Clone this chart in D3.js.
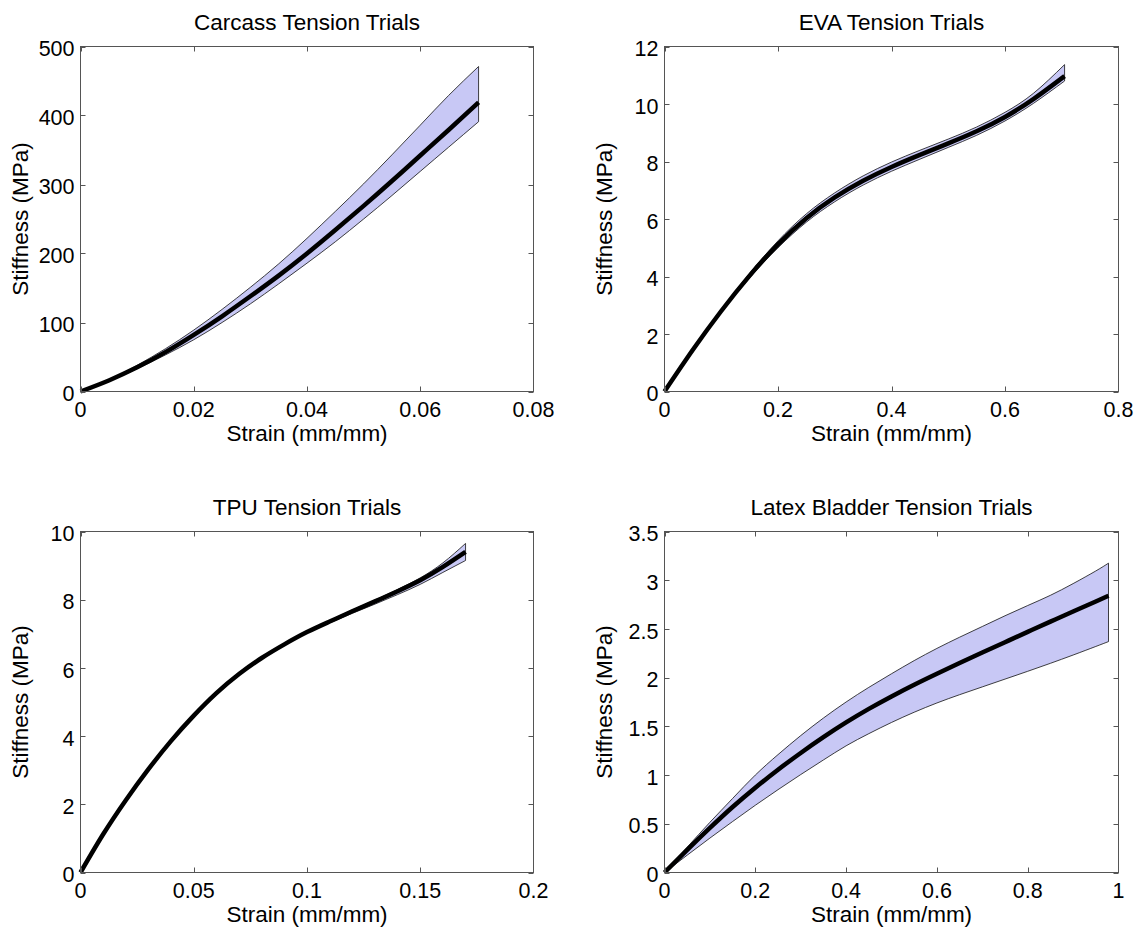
<!DOCTYPE html>
<html>
  <head>
    <meta charset="utf-8">
    <title>Tension trials</title>
    <script src="https://cdn.jsdelivr.net/npm/d3@7"></script>
    <style>
      body { margin: 0; background: #fff; }
      text { font-family: "Liberation Sans", Arial, sans-serif; fill: #000; }
      .box { fill: none; stroke: #555; stroke-width: 1; }
      .tick { stroke: #555; stroke-width: 1; }
      .band { fill: rgb(200, 200, 245); stroke: #111; stroke-width: 0.8; }
      .mean { fill: none; stroke: #000; stroke-width: 4.5; stroke-linejoin: round; }
    </style>
  </head>
  <body>
    <svg id="chart" width="1138" height="930"></svg>
    <script>
      // carcass
      carcassStrain = [0, 0.005, 0.01, 0.015, 0.02, 0.025, 0.03, 0.035, 0.04, 0.045, 0.05, 0.055, 0.06, 0.065, 0.0703];
      carcassMean = [0, 16, 35, 57, 82, 109, 138, 168, 200, 234, 269, 305, 342, 379, 419];
      carcassUpper = [0, 17, 38, 62, 89, 119, 151, 185, 222, 261, 301, 343, 386, 429, 471];
      carcassLower = [0, 15, 33, 53, 75, 100, 127, 156, 186, 217, 250, 284, 319, 354, 391];
      carcassXTicks = [0, 0.02, 0.04, 0.06, 0.08];
      carcassYTicks = [0, 100, 200, 300, 400, 500];
      // eva
      evaStrain = [0, 0.05, 0.1, 0.15, 0.2, 0.25, 0.3, 0.35, 0.4, 0.45, 0.5, 0.55, 0.6, 0.65, 0.705];
      evaMean = [0, 1.45, 2.8, 4.03, 5.12, 6.03, 6.75, 7.33, 7.81, 8.23, 8.63, 9.05, 9.55, 10.17, 10.97];
      evaUpper = [0, 1.48, 2.85, 4.11, 5.24, 6.18, 6.91, 7.5, 7.98, 8.39, 8.78, 9.2, 9.71, 10.37, 11.37];
      evaLower = [0, 1.42, 2.75, 3.95, 5.0, 5.89, 6.6, 7.18, 7.66, 8.08, 8.49, 8.91, 9.41, 10.02, 10.8];
      evaXTicks = [0, 0.2, 0.4, 0.6, 0.8];
      evaYTicks = [0, 2, 4, 6, 8, 10, 12];
      // tpu
      tpuStrain = [0, 0.01, 0.02, 0.03, 0.04, 0.05, 0.06, 0.07, 0.08, 0.09, 0.1, 0.11, 0.12, 0.13, 0.14, 0.15, 0.16, 0.17];
      tpuMean = [0, 1.12, 2.12, 3.03, 3.86, 4.6, 5.26, 5.82, 6.29, 6.69, 7.05, 7.36, 7.66, 7.95, 8.25, 8.57, 8.96, 9.4];
      tpuUpper = [0, 1.13, 2.13, 3.04, 3.87, 4.61, 5.27, 5.83, 6.3, 6.7, 7.07, 7.39, 7.7, 7.99, 8.3, 8.64, 9.08, 9.65];
      tpuLower = [0, 1.11, 2.11, 3.02, 3.85, 4.59, 5.25, 5.81, 6.28, 6.68, 7.03, 7.32, 7.6, 7.87, 8.15, 8.45, 8.8, 9.15];
      tpuXTicks = [0, 0.05, 0.1, 0.15, 0.2];
      tpuYTicks = [0, 2, 4, 6, 8, 10];
      // latex bladder
      latexStrain = [0, 0.05, 0.1, 0.15, 0.2, 0.25, 0.3, 0.35, 0.4, 0.45, 0.5, 0.55, 0.6, 0.65, 0.7, 0.75, 0.8, 0.85, 0.9, 0.95, 0.978];
      latexMean = [0, 0.232, 0.457, 0.672, 0.87, 1.055, 1.227, 1.389, 1.54, 1.679, 1.807, 1.927, 2.04, 2.15, 2.258, 2.364, 2.47, 2.575, 2.679, 2.782, 2.84];
      latexUpper = [0, 0.26, 0.515, 0.76, 1.0, 1.21, 1.405, 1.585, 1.75, 1.9, 2.04, 2.175, 2.3, 2.415, 2.525, 2.635, 2.74, 2.845, 2.965, 3.095, 3.175];
      latexLower = [0, 0.178, 0.353, 0.523, 0.69, 0.85, 1.005, 1.155, 1.3, 1.425, 1.54, 1.645, 1.74, 1.825, 1.905, 1.985, 2.065, 2.147, 2.232, 2.32, 2.37];
      latexXTicks = [0, 0.2, 0.4, 0.6, 0.8, 1];
      latexYTicks = [0, 0.5, 1, 1.5, 2, 2.5, 3, 3.5];

      panels = [
        { title: "Carcass Tension Trials", x: carcassStrain, mean: carcassMean, upper: carcassUpper, lower: carcassLower,
          xTicks: carcassXTicks, yTicks: carcassYTicks, box: [80.5, 46.5, 533.5, 391.5] },
        { title: "EVA Tension Trials", x: evaStrain, mean: evaMean, upper: evaUpper, lower: evaLower,
          xTicks: evaXTicks, yTicks: evaYTicks, box: [664.5, 46.5, 1118.5, 391.5] },
        { title: "TPU Tension Trials", x: tpuStrain, mean: tpuMean, upper: tpuUpper, lower: tpuLower,
          xTicks: tpuXTicks, yTicks: tpuYTicks, box: [80.5, 531.5, 533.5, 872.5] },
        { title: "Latex Bladder Tension Trials", x: latexStrain, mean: latexMean, upper: latexUpper, lower: latexLower,
          xTicks: latexXTicks, yTicks: latexYTicks, box: [664.5, 531.5, 1118.5, 872.5] }
      ];

      chart = d3.select("#chart");
      chart.append("rect").attr("width", 1138).attr("height", 930).attr("fill", "#fff");
      tickFont = 21.5;
      labelFont = 22.5;
      tickLen = 5;

      panels.forEach(function(p) {
        let [l, t, r, b] = p.box;
        let x = d3.scaleLinear()
          .domain(d3.extent(p.xTicks))
          .range([l, r]);
        let y = d3.scaleLinear()
          .domain(d3.extent(p.yTicks))
          .range([b, t]);
        let g = chart.append("g");
        let rows = p.x.map(function(d, i) {
          return { x: d, mean: p.mean[i], upper: p.upper[i], lower: p.lower[i] };
        });
        let area = d3.area()
          .x(function(d) { return x(d.x); })
          .y0(function(d) { return y(d.lower); })
          .y1(function(d) { return y(d.upper); })
          .curve(d3.curveNatural);
        let line = d3.line()
          .x(function(d) { return x(d.x); })
          .y(function(d) { return y(d.mean); })
          .curve(d3.curveNatural);
        g.append("path")
          .classed("band", true)
          .attr("d", area(rows) + "Z");
        g.append("path")
          .classed("mean", true)
          .attr("d", line(rows));
        // box and inward ticks on all sides
        g.append("rect")
          .classed("box", true)
          .attr("x", l).attr("y", t)
          .attr("width", r - l).attr("height", b - t);
        p.xTicks.forEach(function(d) {
          let px = Math.round(x(d)) + 0.5;
          if (d == p.xTicks[p.xTicks.length - 1]) px = r;
          g.append("line").classed("tick", true)
            .attr("x1", px).attr("x2", px).attr("y1", b).attr("y2", b - tickLen);
          g.append("line").classed("tick", true)
            .attr("x1", px).attr("x2", px).attr("y1", t).attr("y2", t + tickLen);
          g.append("text")
            .attr("x", x(d))
            .attr("y", b + 25)
            .attr("text-anchor", "middle")
            .style("font-size", tickFont + "px")
            .text(String(d));
        });
        p.yTicks.forEach(function(d) {
          let py = Math.round(y(d)) + 0.5;
          g.append("line").classed("tick", true)
            .attr("x1", l).attr("x2", l + tickLen).attr("y1", py).attr("y2", py);
          g.append("line").classed("tick", true)
            .attr("x1", r).attr("x2", r - tickLen).attr("y1", py).attr("y2", py);
          g.append("text")
            .attr("x", l - 6)
            .attr("y", y(d))
            .attr("dy", "0.45em")
            .attr("text-anchor", "end")
            .style("font-size", tickFont + "px")
            .text(String(d));
        });
        g.append("text")
          .attr("x", (l + r) / 2)
          .attr("y", b + 49)
          .attr("text-anchor", "middle")
          .style("font-size", labelFont + "px")
          .text("Strain (mm/mm)");
        g.append("text")
          .attr("transform", "translate(" + (l - 60) + "," + ((t + b) / 2) + ") rotate(-90)")
          .attr("dy", "0.35em")
          .attr("text-anchor", "middle")
          .style("font-size", labelFont + "px")
          .text("Stiffness (MPa)");
        g.append("text")
          .attr("x", (l + r) / 2)
          .attr("y", t - 17)
          .attr("text-anchor", "middle")
          .style("font-size", labelFont + "px")
          .text(p.title);
      });
    </script>
  </body>
</html>
